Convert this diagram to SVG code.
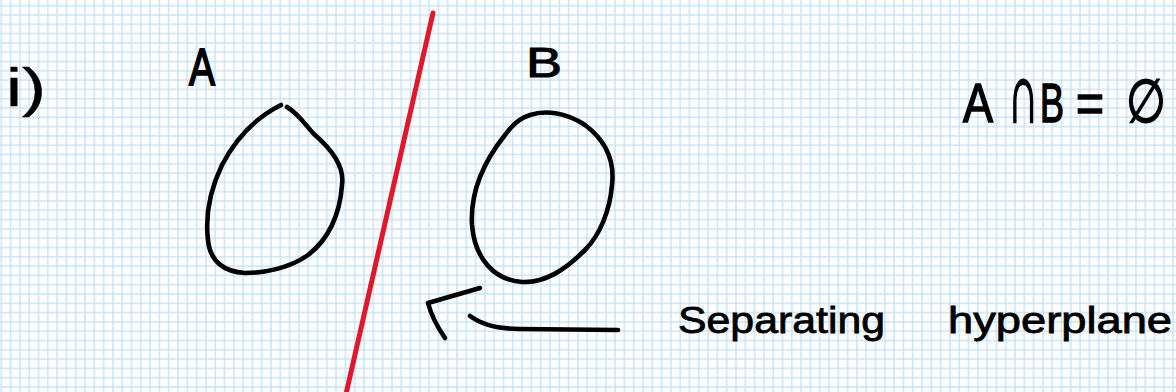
<svg xmlns="http://www.w3.org/2000/svg" width="1176" height="392" viewBox="0 0 1176 392">
  <defs>
    <pattern id="grid" x="-3.35" y="1.05" width="9.3" height="9.3" patternUnits="userSpaceOnUse">
      <line x1="4.65" y1="0" x2="4.65" y2="9.3" stroke="#c6e2f7" stroke-width="1.4"/>
      <line x1="0" y1="4.65" x2="9.3" y2="4.65" stroke="#c6e2f7" stroke-width="1.4"/>
    </pattern>
    <style>
      .ink { fill: none; stroke: #000; stroke-width: 4.6; stroke-linecap: round; stroke-linejoin: round; }
      .txt { font-family: "Liberation Sans", "DejaVu Sans", sans-serif; fill: #000; stroke: #000; }
      .red { stroke: #e3172b; stroke-width: 5; stroke-linecap: round; }
    </style>
  </defs>
  <rect width="1176" height="392" fill="#ffffff"/>
  <rect width="1176" height="392" fill="url(#grid)"/>

  <g id="label-i">
    <text class="txt" x="6" y="106" font-size="54" style="stroke-width:0.4" textLength="40" lengthAdjust="spacingAndGlyphs">i)</text>
  </g>

  <g id="set-A">
    <path class="ink" d="M287,107 C300,115 305,125 315,135 C330,148 345,165 342,185 C340,215 328,240 308,255 C290,268 265,273 245,273 C225,272 210,262 208,240 C205,215 210,190 222,165 C235,140 255,118 281,105"/>
    <text class="txt" x="189" y="85" font-size="52" style="stroke-width:1.8" textLength="26" lengthAdjust="spacingAndGlyphs">A</text>
  </g>

  <g id="set-B">
    <path class="ink" d="M530,115 C545,110 565,112 585,125 C605,140 615,160 612,185 C610,210 600,235 585,250 C565,270 545,283 522,282 C495,280 475,260 472,225 C470,190 485,160 505,135 C512,125 520,118 530,115 Z"/>
    <text class="txt" x="526" y="77" font-size="42" style="stroke-width:1" textLength="36" lengthAdjust="spacingAndGlyphs">B</text>
  </g>

  <g id="hyperplane">
    <line class="red" x1="433" y1="13" x2="346" y2="394"/>
  </g>

  <g id="intersection">
    <text class="txt" x="963" y="122" font-size="56" style="stroke-width:1.6" textLength="30" lengthAdjust="spacingAndGlyphs">A</text>
    <text class="txt" transform="translate(1008,122) scale(0.5,1)" font-size="84" style="stroke-width:2.4">∩</text>
    <text class="txt" y="122" font-size="56" style="stroke-width:1.6"><tspan x="1040" textLength="24" lengthAdjust="spacingAndGlyphs">B</tspan><tspan x="1076" textLength="28" lengthAdjust="spacingAndGlyphs">=</tspan><tspan x="1126" font-size="60" textLength="40" lengthAdjust="spacingAndGlyphs">∅</tspan></text>
  </g>

  <g id="annotation">
    <text class="txt" y="333" font-size="37" style="stroke-width:0.8"><tspan x="678" textLength="207" lengthAdjust="spacingAndGlyphs">Separating</tspan><tspan x="948" textLength="224" lengthAdjust="spacingAndGlyphs">hyperplane</tspan></text>
  </g>

  <g id="connectors">
    <path class="ink" d="M618,330 L520,329 C500,329 482,325 470,316"/>
    <path class="ink" d="M480,288 L428,303 C432,318 438,328 445,338"/>
  </g>
</svg>
